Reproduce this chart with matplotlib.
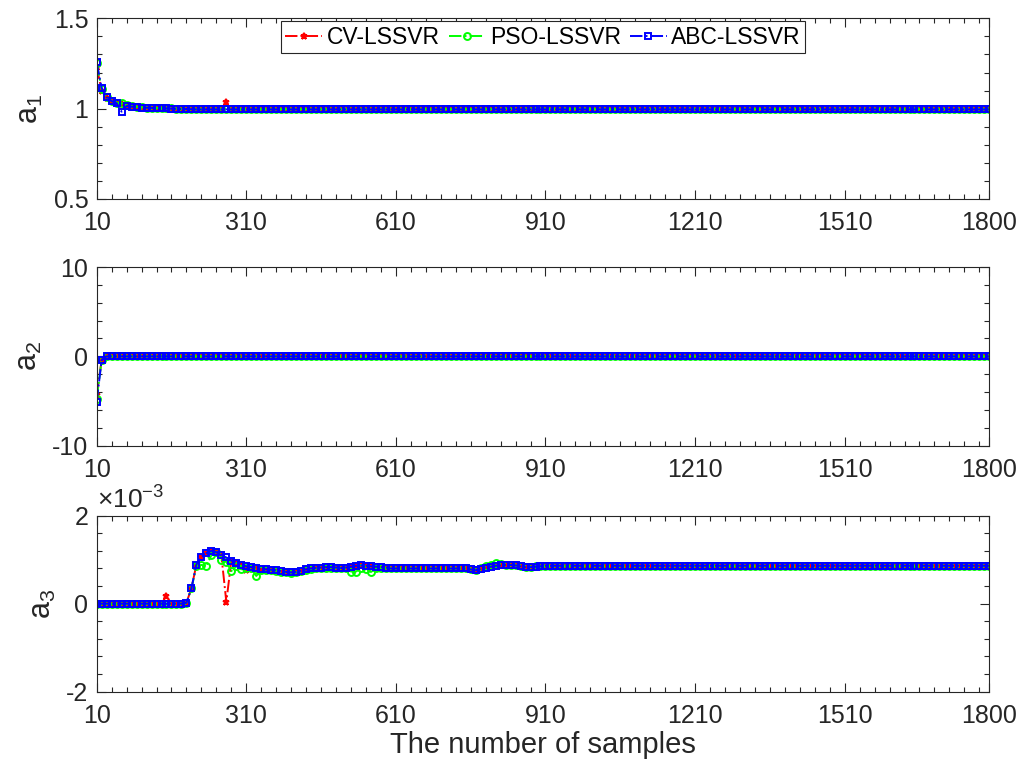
import numpy as np
import matplotlib
matplotlib.use('Agg')
import matplotlib.pyplot as plt
from matplotlib.ticker import FixedLocator

plt.rcParams['font.family'] = ['Liberation Sans', 'DejaVu Sans']
plt.rcParams['mathtext.fontset'] = 'custom'
plt.rcParams['mathtext.rm'] = 'Liberation Sans'
plt.rcParams['mathtext.it'] = 'Liberation Sans'
plt.rcParams['axes.unicode_minus'] = False

# samples 10:10:1800
samples = list(range(10, 1801, 10))

# ---- a1 ----
a1_cv = [1.232, 1.100, 1.060, 1.042, 1.030, 1.026, 1.015, 1.011, 1.008, 1.006,
         1.005, 1.004, 1.003, 1.002, 1.001, 1.000, 0.999, 0.998, 0.998, 0.997,
         0.997, 0.997, 0.997, 0.997, 0.997, 0.997, 1.038] + [0.996] * 153
a1_pso = [1.250, 1.110, 1.063, 1.042, 1.032, 1.030, 1.018, 1.013, 1.010, 1.008,
          1.006, 1.005, 1.004, 1.003, 1.002, 1.001, 1.000, 0.999, 0.998, 0.998] + [0.997] * 60 + \
         [0.999] * 20 + [0.997] * 80
a1_abc = [1.256, 1.113, 1.063, 1.042, 1.030, 0.983, 1.015, 1.011, 1.008, 1.006,
          1.005, 1.004, 1.003, 1.002, 1.001, 1.000, 0.999, 0.998, 0.998, 0.997] + [0.996] * 160

# ---- a2 ----
a2_cv = [-4.3, -0.4] + [0.0] * 178
a2_pso = [-4.8, -0.4] + [0.0] * 178
a2_abc = [-5.1, -0.4] + [0.0] * 178

# ---- a3 (x1e-3) ----
a3_abc_head = [0.00] * 18 + [0.02, 0.35, 0.89, 1.06, 1.15, 1.20, 1.17, 1.10, 1.05, 0.98,
                             0.93, 0.89, 0.85, 0.83, 0.81, 0.79, 0.78, 0.77, 0.76, 0.74,
                             0.72, 0.71, 0.72, 0.75, 0.78, 0.80, 0.81, 0.82, 0.83, 0.83,
                             0.82, 0.81, 0.82, 0.84, 0.86, 0.87, 0.86, 0.85, 0.84, 0.83,
                             0.82]
a3_abc = a3_abc_head + [0.80] * 16 + [0.78, 0.76, 0.79, 0.82, 0.84, 0.86, 0.87, 0.88, 0.88,
                                      0.87, 0.85, 0.83, 0.83, 0.84, 0.85] + [0.86] * 90

a3_cv = [0.00] * 14 + [0.18] + [0.00] * 3 + \
        [0.02, 0.35, 0.89, 1.06, 1.15, 1.20, 1.17, 1.10, 0.04, 0.98,
         0.93, 0.89, 0.76, 0.83, 0.81, 0.79, 0.78, 0.77, 0.76, 0.74,
         0.72, 0.71, 0.72, 0.75, 0.78, 0.80, 0.81, 0.82, 0.83, 0.83,
         0.82, 0.81, 0.82, 0.84, 0.86, 0.87, 0.86, 0.85, 0.84, 0.83,
         0.82] + [0.80] * 16 + [0.78, 0.76, 0.79, 0.82, 0.84, 0.86, 0.87, 0.88, 0.88,
                                0.87, 0.85, 0.83, 0.83, 0.84, 0.85] + [0.86] * 90

a3_pso = [0.00] * 18 + [0.02, 0.35, 0.85, 0.88, 0.86, 1.10, 1.18, 1.00, 0.95, 0.74,
                        0.85, 0.78, 0.82, 0.80, 0.63, 0.76, 0.77, 0.76, 0.75, 0.73,
                        0.71, 0.70, 0.71, 0.74, 0.77, 0.79, 0.80, 0.81, 0.82, 0.82,
                        0.81, 0.80, 0.81, 0.73, 0.73, 0.80, 0.79, 0.72, 0.80, 0.80,
                        0.80] + [0.80] * 16 + [0.78, 0.77, 0.80, 0.85, 0.88, 0.92, 0.90, 0.89, 0.88,
                                               0.87, 0.85, 0.83, 0.84, 0.85, 0.85] + [0.86] * 90

a3_cv = [v * 1e-3 for v in a3_cv]
a3_pso = [v * 1e-3 for v in a3_pso]
a3_abc = [v * 1e-3 for v in a3_abc]

x_ticks = [10, 310, 610, 910, 1210, 1510, 1800]
x_minor = list(range(40, 1800, 30))

names = ['CV-LSSVR', 'PSO-LSSVR', 'ABC-LSSVR']
styles = [dict(color=(1, 0, 0), marker='*'),
          dict(color=(0, 1, 0), marker='o'),
          dict(color=(0, 0, 1), marker='s')]

panels = [
    ('a$_1$', [a1_cv, a1_pso, a1_abc], (0.5, 1.5), [0.5, 1, 1.5], np.arange(0.6, 1.5, 0.1), 1),
    ('a$_2$', [a2_cv, a2_pso, a2_abc], (-10, 10), [-10, 0, 10], np.arange(-8, 10, 2), 1),
    ('a$_3$', [a3_cv, a3_pso, a3_abc], (-2e-3, 2e-3), [-2e-3, 0, 2e-3], np.arange(-1.6e-3, 2e-3, 0.4e-3), 1e3),
]
positions = [[0.0946, 0.7416, 0.8734, 0.2346],
             [0.0946, 0.4212, 0.8734, 0.2320],
             [0.0946, 0.1017, 0.8734, 0.2286]]

edge = '#262626'
fig = plt.figure(figsize=(10.22, 7.70), dpi=100)
axes = []
for pos, (lab, series, ylim, yt, ymin, scale) in zip(positions, panels):
    ax = fig.add_axes(pos)
    for s, st, nm in zip(series, styles, names):
        ax.plot(samples, s, linestyle='-.', lw=1.4, ms=5, mfc='none', mew=1.4,
                label=nm, **st)
    ax.set_xlim(10, 1800)
    ax.set_ylim(*ylim)
    ax.set_xticks(x_ticks)
    ax.xaxis.set_minor_locator(FixedLocator(x_minor))
    ax.set_yticks(yt)
    ax.yaxis.set_minor_locator(FixedLocator(ymin))
    ax.yaxis.set_major_formatter(plt.FuncFormatter(lambda v, p, k=scale: '%g' % round(v * k, 6)))
    ax.tick_params(which='both', direction='in', top=True, right=True,
                   colors=edge, labelsize=18, width=0.8)
    ax.tick_params(which='major', length=6.5)
    ax.tick_params(axis='x', which='major', pad=9)
    ax.tick_params(axis='y', which='major', pad=6)
    ax.tick_params(which='minor', length=3.3)
    for sp in ax.spines.values():
        sp.set_color(edge)
        sp.set_linewidth(0.8)
    ax.set_ylabel(lab, fontsize=22, color=edge, labelpad=6)
    axes.append(ax)

axes[2].text(0.0, 1.01, r'$\times10^{-3}$', transform=axes[2].transAxes,
             fontsize=19, color=edge, ha='left', va='bottom')

axes[2].set_xlabel('The number of samples', fontsize=21, color=edge, labelpad=2)

leg = axes[0].legend(loc='upper center', bbox_to_anchor=(0.5, 0.985), ncol=3,
                     fontsize=16.5, frameon=True, fancybox=False, framealpha=1,
                     edgecolor=edge, handlelength=1.6, handletextpad=0.2,
                     columnspacing=0.4, borderpad=0.2, borderaxespad=0.0)
leg.get_frame().set_linewidth(0.8)

fig.savefig('out.png', dpi=100)
